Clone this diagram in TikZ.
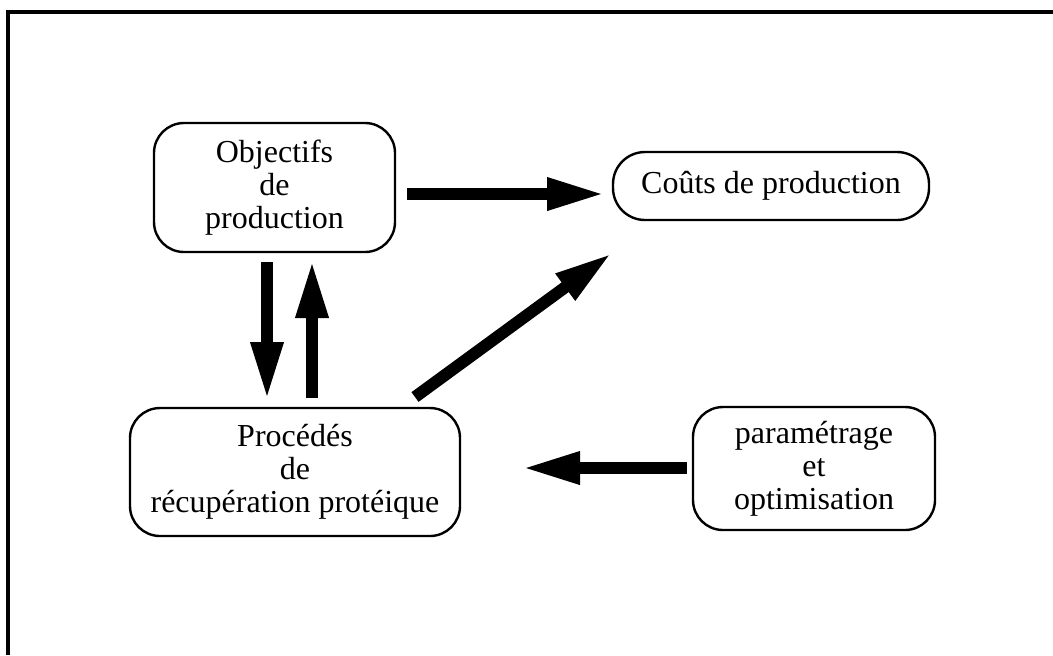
\documentclass[tikz,border=0pt]{standalone}
\usepackage{fontspec}
\setmainfont{Liberation Serif}
\usetikzlibrary{arrows.meta}
\begin{document}
\begin{tikzpicture}[x=0.5pt,y=-0.5pt,
  box/.style={draw,line width=1.2pt,rounded corners=15pt,align=center,
    inner sep=0pt,font=\fontsize{16}{16.5}\selectfont},
  bigarrow/.style={line width=6pt,-{Triangle[length=29pt,width=15pt]}},
  frameline/.style={line width=2pt}]
\useasboundingbox (0,0) rectangle (1053,655);
% frame (top and left sides only)
\coordinate (f1) at (1053,12);
\coordinate (f2) at (8,12);
\coordinate (f3) at (8,655);
\draw[frameline] (f1) -- (f2) -- (f3);
% nodes
\node[box,minimum width=120.5pt,minimum height=64.5pt] (obj) at (274.5,187.5)
  {Objectifs\\de\\production};
\node[box,minimum width=158pt,minimum height=34pt,rounded corners=16pt] (cout) at (771,186)
  {Coûts de production};
\node[box,minimum width=165pt,minimum height=64pt] (proc) at (295,472)
  {Procédés\\de\\récupération protéique};
\node[box,minimum width=121pt,minimum height=61.5pt] (param) at (814,468.5)
  {paramétrage\\et\\optimisation};
% arrow end points
\coordinate (a1s) at (407,194);
\coordinate (a1e) at (605,194);
\coordinate (a2s) at (267,262);
\coordinate (a2e) at (267,400);
\coordinate (a3s) at (312,398);
\coordinate (a3e) at (312,260);
\coordinate (a4s) at (415,397);
\coordinate (a4e) at (612,253);
\coordinate (a5s) at (687,468);
\coordinate (a5e) at (522,468);
\draw[bigarrow] (a1s) -- (a1e);
\draw[bigarrow] (a2s) -- (a2e);
\draw[bigarrow] (a3s) -- (a3e);
\draw[bigarrow] (a4s) -- (a4e);
\draw[bigarrow] (a5s) -- (a5e);
\end{tikzpicture}
\end{document}
